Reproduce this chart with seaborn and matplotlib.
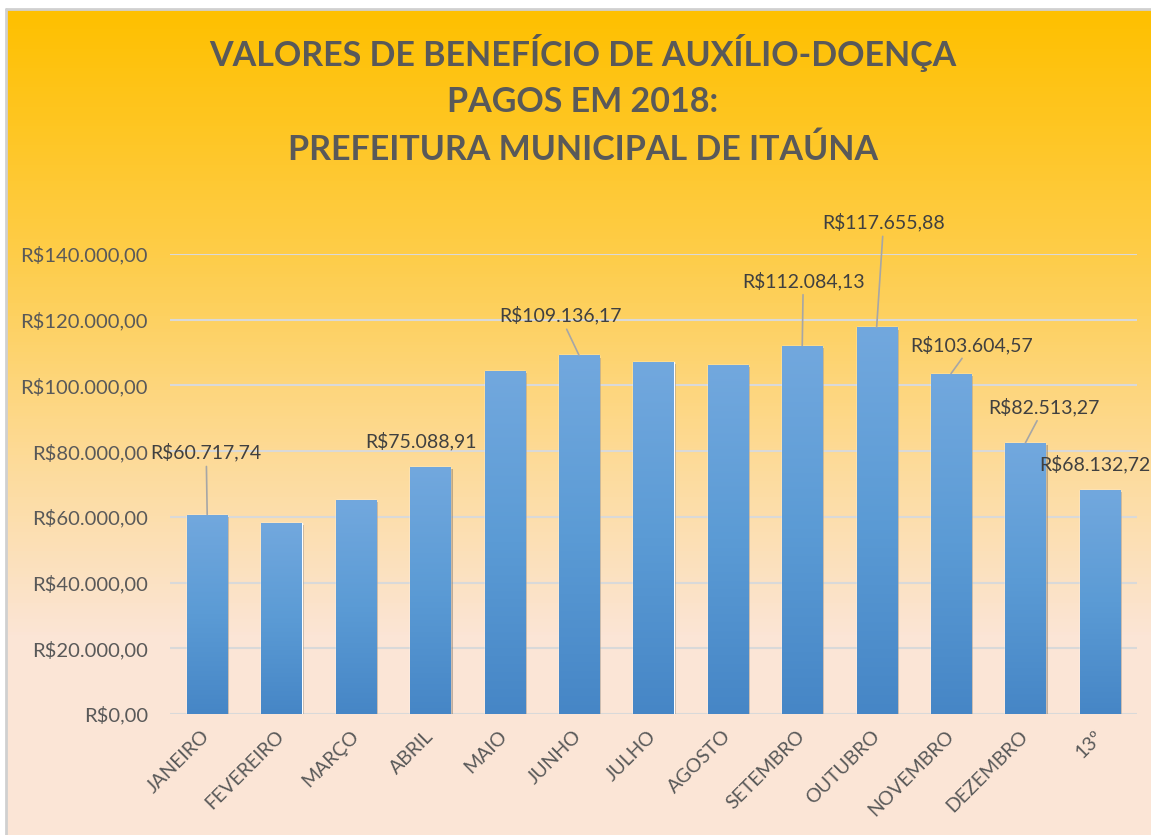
import numpy as np
import pandas as pd
import matplotlib
matplotlib.use('Agg')
import matplotlib.pyplot as plt
import seaborn as sns
from matplotlib.colors import LinearSegmentedColormap
from matplotlib import patheffects

# dados
meses = ['JANEIRO', 'FEVEREIRO', 'MARÇO', 'ABRIL', 'MAIO', 'JUNHO', 'JULHO',
         'AGOSTO', 'SETEMBRO', 'OUTUBRO', 'NOVEMBRO', 'DEZEMBRO', '13º']
valores = [60717.74, 58100.00, 65100.00, 75088.91, 104400.00, 109136.17, 107100.00,
           106200.00, 112084.13, 117655.88, 103604.57, 82513.27, 68132.72]
rotulados = ['JANEIRO', 'ABRIL', 'JUNHO', 'SETEMBRO', 'OUTUBRO', 'NOVEMBRO', 'DEZEMBRO', '13º']
yticks = [0, 20000, 40000, 60000, 80000, 100000, 120000, 140000]
titulo = ['VALORES DE BENEFÍCIO DE AUXÍLIO-DOENÇA',
          'PAGOS EM 2018:',
          'PREFEITURA MUNICIPAL DE ITAÚNA']

# posicao dos rotulos (pixels a partir do topo da barra) e se tem linha guia
offsets = {
    'JANEIRO': (-1, 62, True),
    'ABRIL': (-9, 26, False),
    'JUNHO': (-19, 40, True),
    'SETEMBRO': (1, 65, True),
    'OUTUBRO': (7, 105, True),
    'NOVEMBRO': (21, 29, True),
    'DEZEMBRO': (19, 36, True),
    '13º': (-5, 26, False),
}


def brl(v):
    s = f'{v:,.2f}'
    s = s.replace(',', 'X').replace('.', ',').replace('X', '.')
    return 'R$' + s


df = pd.DataFrame({'mes': meses, 'valor': valores})

sns.set_style('white')
plt.rcParams['font.family'] = ['Lato', 'DejaVu Sans']
texto = '#595959'

fig = plt.figure(figsize=(11.51, 8.35), dpi=100)
fig.patch.set_facecolor('white')

# fundo em degrade
bg = fig.add_axes([0.006, 0, 0.994, 0.988], zorder=-10)
fundo = LinearSegmentedColormap.from_list(
    'fundo', [(0.0, '#FFC000'), (0.3, '#FECD4A'), (0.55, '#FDDB9A'),
              (0.76, '#FBE5D6'), (1.0, '#FBE5D6')])
bg.imshow(np.linspace(0, 1, 256).reshape(-1, 1), cmap=fundo, aspect='auto',
          extent=[0, 1, 0, 1])
bg.axis('off')
fig.add_artist(plt.Line2D([0.005, 1], [0.9895, 0.9895], color='#D0D0D0', lw=2))
fig.add_artist(plt.Line2D([0.005, 0.005], [0, 0.9895], color='#D0D0D0', lw=2))

ax = fig.add_axes([0.1477, 0.1449, 0.8401, 0.5509])
ax.set_facecolor('none')

sns.barplot(data=df, x='mes', y='valor', color='#5B9BD5', width=0.54,
            saturation=1, ax=ax, zorder=3)

# degrade nas barras
barra = LinearSegmentedColormap.from_list('barra', ['#4686C6', '#5B9BD5', '#72A8DE'])
grad = np.linspace(0, 1, 256).reshape(-1, 1)
for p in ax.patches:
    x0, y0, w, h = p.get_x(), p.get_y(), p.get_width(), p.get_height()
    p.set_path_effects([patheffects.SimplePatchShadow(offset=(1.5, -1.5), shadow_rgbFace='#7a6a5a', alpha=0.45),
                        patheffects.Normal()])
    im = ax.imshow(grad, cmap=barra, aspect='auto', origin='lower',
                   extent=[x0, x0 + w, y0, y0 + h], zorder=4)
    im.set_clip_path(p)

ax.set_xlim(-0.5, len(meses) - 0.5)
ax.set_ylim(0, 140000)
ax.set_yticks(yticks)
ax.set_yticklabels([brl(v) for v in yticks])
ax.yaxis.grid(True, color='#D9D9D9', lw=1.5)
ax.set_axisbelow(True)
sns.despine(ax=ax, left=True, bottom=True)
ax.set_xlabel('')
ax.set_ylabel('')
ax.tick_params(axis='y', length=0, pad=16, labelsize=14.5, labelcolor=texto)
ax.tick_params(axis='x', length=0, pad=14, labelsize=14, labelcolor=texto)
for lbl in ax.get_xticklabels():
    lbl.set_rotation(45)
    lbl.set_ha('right')
    lbl.set_va('center')
    lbl.set_rotation_mode('anchor')

# rotulos de dados
for i, (m, v) in enumerate(zip(meses, valores)):
    if m not in rotulados:
        continue
    dx, dy, guia = offsets[m]
    props = dict(arrowstyle='-', color='#A6A6A6', lw=1.2, shrinkA=1, shrinkB=0) if guia else None
    ax.annotate(brl(v), xy=(i, v), xytext=(dx, dy), textcoords='offset pixels',
                ha='center', va='center', fontsize=14, color='#404040',
                arrowprops=props, annotation_clip=False, zorder=6)

# titulo
for linha, ypx in zip(titulo, [53, 102, 150]):
    fig.text(583 / 1151, 1 - ypx / 835, linha, ha='center', va='center',
             fontsize=24.5, fontweight='bold', color=texto)

fig.savefig('out.png', dpi=100)
